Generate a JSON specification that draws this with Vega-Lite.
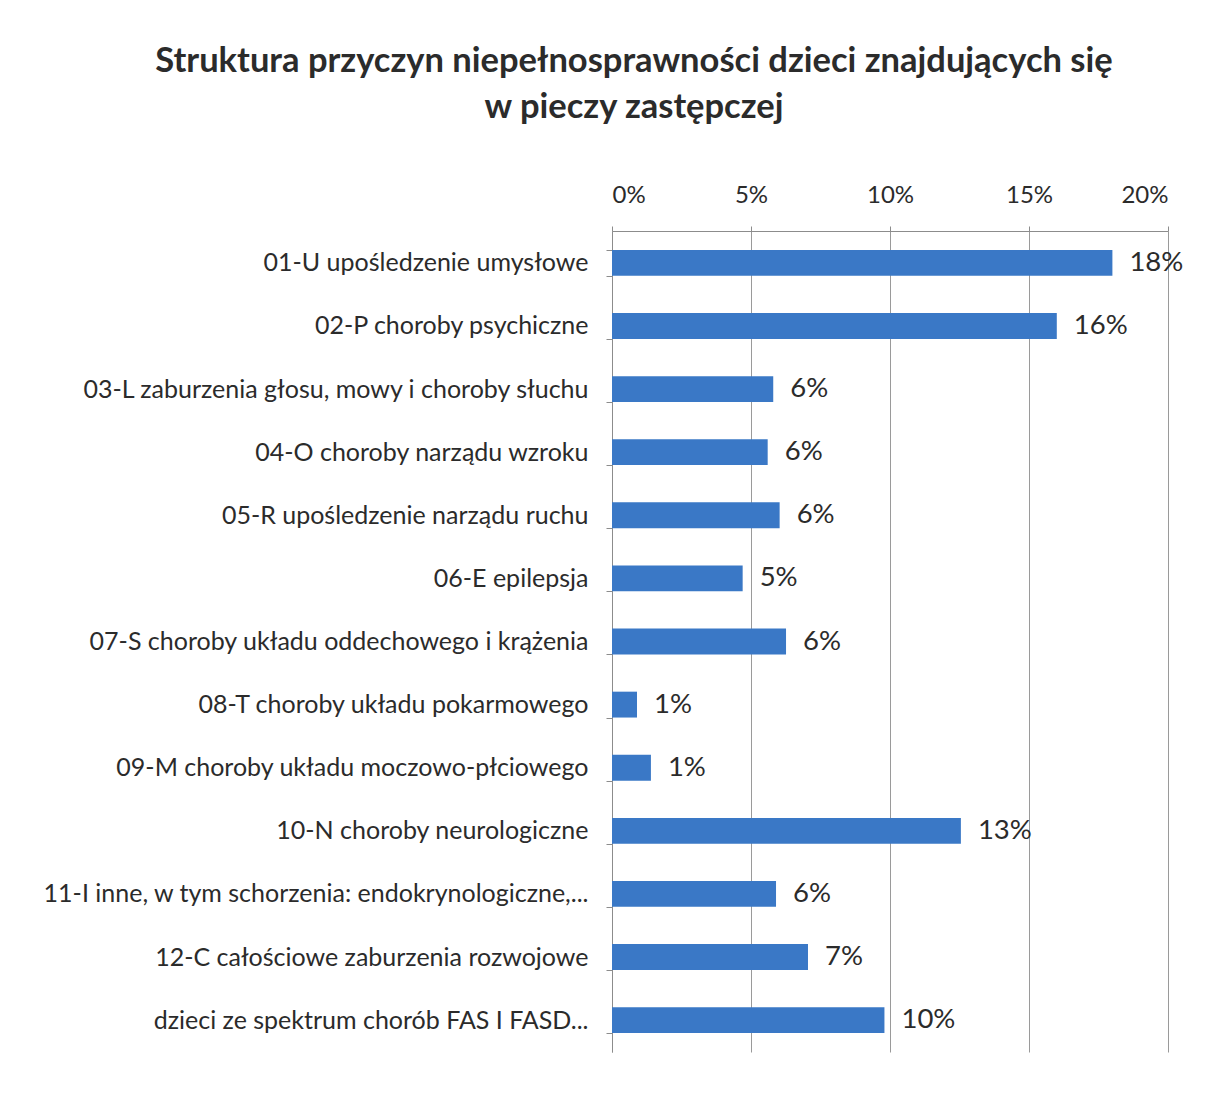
{
  "$schema": "https://vega.github.io/schema/vega-lite/v6.json",
  "autosize": "none",
  "width": 556,
  "height": 821,
  "padding": {"left": 612, "top": 231, "right": 47, "bottom": 59},
  "background": "white",
  "title": {
    "text": ["Struktura przyczyn niepełnosprawności dzieci znajdujących się", "w pieczy zastępczej"],
    "anchor": "middle",
    "frame": "group",
    "dx": -256,
    "font": "Lato",
    "fontSize": 34.5,
    "fontWeight": "bold",
    "color": "#2b2b2b",
    "lineHeight": 46,
    "offset": 58
  },
  "data": {
    "values": [
      {"kategoria": "01-U  upośledzenie umysłowe", "udzial": 0.18},
      {"kategoria": "02-P choroby psychiczne", "udzial": 0.16},
      {"kategoria": "03-L zaburzenia głosu, mowy i choroby słuchu", "udzial": 0.058},
      {"kategoria": "04-O choroby narządu wzroku", "udzial": 0.056},
      {"kategoria": "05-R upośledzenie narządu ruchu", "udzial": 0.0603},
      {"kategoria": "06-E epilepsja", "udzial": 0.047},
      {"kategoria": "07-S  choroby układu oddechowego i krążenia", "udzial": 0.0626},
      {"kategoria": "08-T  choroby układu pokarmowego", "udzial": 0.009},
      {"kategoria": "09-M  choroby układu moczowo-płciowego", "udzial": 0.014},
      {"kategoria": "10-N choroby neurologiczne", "udzial": 0.1255},
      {"kategoria": "11-I  inne, w tym schorzenia: endokrynologiczne,...", "udzial": 0.059},
      {"kategoria": "12-C całościowe zaburzenia rozwojowe", "udzial": 0.0705},
      {"kategoria": "dzieci ze spektrum chorób FAS I FASD...", "udzial": 0.098}
    ]
  },
  "encoding": {
    "y": {
      "field": "kategoria",
      "type": "nominal",
      "sort": null,
      "scale": {"paddingInner": 0.59, "paddingOuter": 0.3},
      "axis": {
        "title": null,
        "domainColor": "#8c8c8c",
        "tickColor": "#8c8c8c",
        "tickSize": 6,
        "tickBand": "extent",
        "labelPadding": 18,
        "labelLimit": 700,
        "labelFont": "Lato",
        "labelFontSize": 25,
        "labelColor": "#2b2b2b"
      }
    },
    "x": {
      "field": "udzial",
      "type": "quantitative",
      "scale": {"domain": [0, 0.2], "nice": false},
      "axis": {
        "orient": "top",
        "title": null,
        "values": [0, 0.05, 0.1, 0.15, 0.2],
        "format": ".0%",
        "grid": true,
        "gridColor": "#9a9a9a",
        "gridWidth": 1,
        "domainColor": "#8c8c8c",
        "tickColor": "#8c8c8c",
        "tickSize": 5,
        "labelPadding": 19,
        "labelFont": "Lato",
        "labelFontSize": 24,
        "labelColor": "#2b2b2b"
      }
    }
  },
  "layer": [
    {"mark": {"type": "bar", "color": "#3a78c6"}},
    {
      "mark": {"type": "text", "align": "left", "baseline": "middle", "dx": 17, "font": "Lato", "fontSize": 27.5, "color": "#2b2b2b"},
      "encoding": {"text": {"field": "udzial", "type": "quantitative", "format": ".0%"}}
    }
  ],
  "config": {"view": {"stroke": null}}
}
